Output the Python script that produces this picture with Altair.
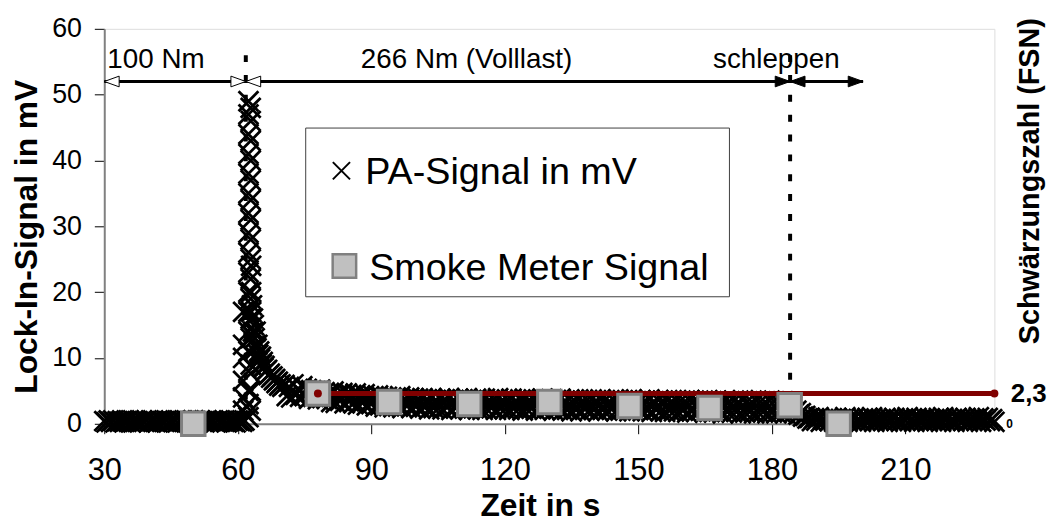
import altair as alt
import pandas as pd

FONT = "Liberation Sans"

# ---------------- data ----------------
x_ticks = [30, 60, 90, 120, 150, 180, 210]
y_ticks = [0, 10, 20, 30, 40, 50, 60]
fsn_ticks = [2.3]

# PA signal in mV, sampled every 0.5 s
pa_pre_start = 30.0
pa_pre_mv = [0.4, 0.2, 0.5, 0.3, 0.5, 0.2, 0.4, 0.3, 0.5, 0.3,
             0.4, 0.5, 0.2, 0.5, 0.3, 0.4, 0.2, 0.5, 0.3, 0.5,
             0.2, 0.4, 0.5, 0.3, 0.2, 0.5, 0.4, 0.3, 0.5, 0.2,
             0.4, 0.3, 0.5, 0.2, 0.5, 0.4, 0.3, 0.5, 0.2, 0.4,
             0.5, 0.3, 0.2, 0.5, 0.4, 0.2, 0.5, 0.3, 0.5, 0.4,
             0.2, 0.5, 0.3, 0.4, 0.5, 0.2, 0.4, 0.5, 0.3, 0.2,
             0.5, 0.4, 0.3, 0.5]
pa_rise_t = [61.2, 61.2, 61.2, 61.2, 61.2, 61.2]
pa_rise_mv = [2, 4, 6.5, 10, 12, 17]
pa_peak_t = [62.4] * 18 + [62.9] * 16
pa_peak_mv = [1, 3, 5, 8, 11, 14, 17, 20, 23, 26, 29, 32, 35, 38, 41, 44, 47, 49,
              2, 5, 9, 13, 16, 19, 22, 25, 28, 31, 34, 37, 40, 43, 46, 48]
pa_decay_t = [63.0, 63.0, 63.0, 63.2, 63.4, 63.4, 63.6, 63.8, 64.0, 64.0, 64.2,
              64.4, 64.6, 64.8, 65.0, 65.2, 65.4, 65.6, 65.8, 66.0, 66.3, 66.6,
              66.9, 67.2, 67.5, 67.8, 68.1, 68.4, 68.7, 69.0, 69.3, 69.6, 70.0]
pa_decay_mv = [24, 20, 17, 18, 16, 14, 15, 13, 12, 14, 11.5, 12, 10.5, 11, 9.8,
               10.2, 9, 9.4, 8.5, 8.8, 8, 8.2, 7.4, 7.6, 7, 7.2, 6.6, 6.8, 6.2,
               6.4, 5.8, 6.0, 5.6]
pa_full_start = 70.5
pa_full_mv = [5.9, 4.2, 5.6, 4.0, 6.0, 4.4, 5.3, 4.1, 5.7, 4.3,
              5.3, 3.8, 5.1, 4.1, 4.9, 3.7, 5.2, 3.9, 4.8, 3.8,
              4.7, 3.3, 4.9, 3.2, 4.5, 3.5, 4.7, 3.1, 4.6, 3.4,
              4.4, 3.1, 4.6, 2.9, 4.3, 3.2, 4.5, 2.8, 4.2, 3.0,
              4.2, 2.6, 4.3, 2.8, 4.0, 2.5, 4.1, 2.7, 3.9, 2.5,
              4.0, 2.6, 4.2, 2.4, 3.8, 2.7, 4.0, 2.4, 3.9, 2.6,
              3.8, 2.3, 3.9, 2.5, 3.7, 2.2, 3.9, 2.4, 3.6, 2.3,
              3.8, 2.2, 3.7, 2.5, 3.9, 2.1, 3.6, 2.4, 3.8, 2.2,
              3.7, 2.3, 3.9, 2.1, 3.6, 2.4, 3.8, 2.2, 3.7, 2.1,
              3.8, 2.2, 3.6, 2.4, 3.7, 2.1, 3.9, 2.3, 3.6, 2.2,
              3.7, 2.1, 3.8, 2.3, 3.5, 2.2, 3.7, 2.0, 3.8, 2.2,
              3.6, 2.3, 3.7, 2.0, 3.6, 2.2, 3.8, 2.1, 3.5, 2.3,
              3.7, 2.0, 3.6, 2.2, 3.8, 2.0, 3.5, 2.1, 3.7, 1.9,
              3.6, 2.1, 3.7, 1.9, 3.5, 2.2, 3.6, 2.0, 3.7, 2.1,
              3.5, 1.9, 3.7, 2.1, 3.6, 2.0, 3.4, 2.2, 3.6, 1.9,
              3.7, 2.0, 3.5, 2.1, 3.6, 1.9, 3.7, 2.0, 3.4, 2.1,
              3.6, 1.9, 3.5, 2.0, 3.7, 1.8, 3.4, 2.1, 3.6, 1.9,
              3.5, 1.8, 3.6, 2.0, 3.4, 1.9, 3.6, 1.8, 3.5, 2.0,
              3.4, 1.7, 3.6, 1.9, 3.5, 1.8, 3.3, 2.0, 3.5, 1.7,
              3.6, 1.8, 3.4, 1.7, 3.5, 1.9, 3.3, 1.6, 3.5, 1.8,
              3.4, 1.7, 3.5, 1.8, 3.3, 1.6, 3.6, 1.7, 3.4, 1.8,
              3.3, 1.6, 3.5, 1.7, 3.4, 1.8, 3.3, 1.6, 3.5, 1.7,
              3.4, 1.6, 3.3, 1.7, 3.4, 1.6, 3.2, 1.8]
pa_drop_start = 184.5
pa_drop_mv = [2.6, 1.7, 2.0, 1.4, 1.6, 1.1, 1.2, 0.8]
pa_tail_start = 188.5
pa_tail_mv = [0.9, 0.4, 0.8, 0.5, 1.0, 0.3, 0.7, 0.5, 0.9, 0.4,
              0.8, 0.3, 0.9, 0.5, 0.7, 0.4, 1.0, 0.3, 0.8, 0.5,
              0.9, 0.4, 0.7, 0.3, 0.8, 0.5, 0.9, 0.4, 1.0, 0.3,
              0.8, 0.5, 0.7, 0.4, 0.9, 0.3, 0.8, 0.5, 0.9, 0.4,
              0.7, 0.3, 0.8, 0.5, 1.0, 0.4, 0.8, 0.3, 0.9, 0.5,
              0.7, 0.4, 0.9, 0.3, 0.8, 0.5, 0.7, 0.4, 0.9, 0.3,
              1.0, 0.5, 0.8, 0.4, 0.7, 0.3, 0.9, 0.5, 0.8, 0.4,
              0.9, 0.3, 0.7, 0.5, 0.8, 0.4, 1.0, 0.3, 0.8, 0.5,
              0.9, 0.4, 0.7, 0.3]

# Smoke meter (FSN)
smoke_t = [50, 78, 94, 112, 130, 148, 166, 184, 195]
smoke_fsn = [0, 2.3, 1.65, 1.5, 1.65, 1.35, 1.2, 1.4, 0]
mean_t = [78, 230]
mean_fsn = [2.3, 2.3]

# phase annotations
phase_label = ["100 Nm", "266 Nm (Volllast)", "schleppen"]
phase_label_t = [30.7, 111.4, 181.0]
phase_label_mv = 54.1
phase_bound_t = [61.8, 184.1]
phase_bound_top = 56
arrow_mv = 52
arrow_start_t = 30.0
arrow_end_t = 200.5
open_head_t = [30.0, 61.8, 61.8]
open_head_dir = ["L", "R", "L"]
solid_head_t = [184.1, 184.1, 200.5]
solid_head_dir = ["R", "L", "R"]
legend_labels = ["PA-Signal in mV", "Smoke Meter Signal"]


def sampled(start, values, step=0.5):
    return [round(start + step * i, 2) for i in range(len(values))]


pa_t = (sampled(pa_pre_start, pa_pre_mv) + pa_rise_t + pa_peak_t + pa_decay_t
        + sampled(pa_full_start, pa_full_mv) + sampled(pa_drop_start, pa_drop_mv)
        + sampled(pa_tail_start, pa_tail_mv))
pa_mv = (pa_pre_mv + pa_rise_mv + pa_peak_mv + pa_decay_mv + pa_full_mv
         + pa_drop_mv + pa_tail_mv)
pa_df = pd.DataFrame({"t": pa_t, "mv": pa_mv})
smoke_df = pd.DataFrame({"t": smoke_t, "fsn": smoke_fsn})
mean_df = pd.DataFrame({"t": mean_t, "fsn": mean_fsn})
label_df = pd.DataFrame({"t": phase_label_t, "label": phase_label,
                         "mv": [phase_label_mv] * 3})
bound_df = pd.DataFrame({"t": phase_bound_t, "top": [phase_bound_top] * 2,
                         "bottom": [0, 0]})
arrow_df = pd.DataFrame({"t": [arrow_start_t], "end": [arrow_end_t],
                         "mv": [arrow_mv]})
open_df = pd.DataFrame({"t": open_head_t, "dir": open_head_dir,
                        "mv": [arrow_mv] * 3})
solid_df = pd.DataFrame({"t": solid_head_t, "dir": solid_head_dir,
                         "mv": [arrow_mv] * 3})
leg1_df = pd.DataFrame({"label": [legend_labels[0]]})
leg2_df = pd.DataFrame({"label": [legend_labels[1]]})
right_zero_df = pd.DataFrame({"label": ["0"]})

# ---------------- chart ----------------
W, H = 897, 398
x_scale = alt.Scale(domain=[30, 230], nice=False, zero=False)
y_scale = alt.Scale(domain=[0, 60], nice=False)
y2_scale = alt.Scale(domain=[0, 30], nice=False)

X_PATH = "M-1,-1L1,1M-1,1L1,-1"
RIGHT_HEAD = "M0,0L-1,-0.36L-1,0.36Z"
LEFT_HEAD = "M0,0L1,-0.36L1,0.36Z"
head_shape = alt.Shape("dir:N", scale=alt.Scale(domain=["L", "R"],
                                                range=[LEFT_HEAD, RIGHT_HEAD]),
                       legend=None)

x_axis = alt.Axis(
    values=x_ticks, tickSize=10, tickColor="black", tickWidth=1,
    domainColor="#808080", domainWidth=2, labelFontSize=31,
    labelColor="black", labelPadding=22, labelFont=FONT, labelFlush=False,
    title="Zeit in s", titleFontSize=32, titleFontWeight="bold",
    titleFont=FONT, titleColor="black", titleX=439, titleY=92,
    titleAlign="center", titleBaseline="alphabetic", grid=False)
xa = alt.X("t:Q", scale=x_scale, axis=x_axis, title="Zeit in s")
ya = alt.Y("mv:Q", scale=y_scale, axis=None)
y2a = alt.Y("fsn:Q", scale=y2_scale, axis=None)

pa = alt.Chart(pa_df).mark_point(
    shape=X_PATH, filled=False, stroke="black", strokeWidth=2.8, size=400, opacity=1
).encode(
    x=xa,
    y=alt.Y("mv:Q", scale=y_scale, axis=alt.Axis(
        orient="left", values=y_ticks, tickSize=10, tickColor="black",
        tickWidth=1, domainColor="#808080", domainWidth=2, labelFontSize=27,
        labelPadding=13, labelColor="black", labelFont=FONT,
        title="Lock-In-Signal in mV", titleFontSize=32, titleFontWeight="bold",
        titleFont=FONT, titleColor="black", titleAngle=270, titleX=-68,
        titleY=209, titleAlign="center", titleBaseline="alphabetic", grid=False)),
)

bounds = alt.Chart(bound_df).mark_rule(
    stroke="black", strokeWidth=4, strokeDash=[7, 13]
).encode(x=xa, y=alt.Y("top:Q", scale=y_scale, axis=None), y2="bottom:Q")

arrow_line = alt.Chart(arrow_df).mark_rule(stroke="black", strokeWidth=3).encode(
    x=xa, x2="end:Q", y=ya)

open_heads = alt.Chart(open_df).mark_point(
    filled=True, fill="white", stroke="black", strokeWidth=1, size=900, opacity=1
).encode(x=xa, y=ya, shape=head_shape)

solid_heads = alt.Chart(solid_df).mark_point(
    filled=True, fill="black", stroke="black", strokeWidth=1, size=900, opacity=1
).encode(x=xa, y=ya, shape=head_shape)

labels_left = alt.Chart(label_df.iloc[:1]).mark_text(
    align="left", baseline="alphabetic", fontSize=28, font=FONT, color="black"
).encode(x=xa, y=ya, text="label:N")
labels_center = alt.Chart(label_df.iloc[1:]).mark_text(
    align="center", baseline="alphabetic", fontSize=28, font=FONT, color="black"
).encode(x=xa, y=ya, text="label:N")

mean_line = alt.Chart(mean_df).mark_line(color="#800000", strokeWidth=5).encode(
    x=xa, y=y2a)

smoke = alt.Chart(smoke_df).mark_point(
    shape="square", filled=True, fill="#c0c0c0", stroke="#808080",
    strokeWidth=3, size=560, opacity=1
).encode(
    x=xa,
    y=alt.Y("fsn:Q", scale=y2_scale, axis=alt.Axis(
        orient="right", values=fsn_ticks,
        labelExpr="replace(format(datum.value, '.1f'), '.', ',')",
        labelFontSize=26, labelFontWeight="bold", labelPadding=16,
        labelColor="black", labelFont=FONT, ticks=False, domain=False,
        title="Schwärzungszahl (FSN)", titleFontSize=29, titleFontWeight="bold",
        titleFont=FONT, titleColor="black", titleAngle=270, titleX=44,
        titleY=153, titleAlign="center", titleBaseline="alphabetic", grid=False)),
)

mean_dots = alt.Chart(mean_df).mark_point(
    shape="circle", filled=True, fill="#800000", stroke="#800000",
    strokeWidth=0, size=64, opacity=1
).encode(x=xa, y=y2a)

legend_box = alt.Chart(leg1_df).mark_rect(
    fill="white", stroke="#404040", strokeWidth=1
).encode(x=alt.value(203), x2=alt.value(630), y=alt.value(100), y2=alt.value(270))
legend_sym1 = alt.Chart(leg1_df).mark_point(
    shape=X_PATH, filled=False, stroke="black", strokeWidth=2, size=300, opacity=1
).encode(x=alt.value(239), y=alt.value(143))
legend_sym2 = alt.Chart(leg2_df).mark_point(
    shape="square", filled=True, fill="#c0c0c0", stroke="#808080",
    strokeWidth=2.5, size=560, opacity=1
).encode(x=alt.value(242), y=alt.value(239))
legend_txt1 = alt.Chart(leg1_df).mark_text(
    align="left", baseline="alphabetic", fontSize=38, font=FONT, color="black"
).encode(x=alt.value(263), y=alt.value(156), text="label:N")
legend_txt2 = alt.Chart(leg2_df).mark_text(
    align="left", baseline="alphabetic", fontSize=38, font=FONT, color="black"
).encode(x=alt.value(267), y=alt.value(253), text="label:N")

right_zero = alt.Chart(right_zero_df).mark_text(
    align="left", baseline="middle", fontSize=12, font=FONT, color="black",
    fontWeight="bold"
).encode(x=alt.value(W + 12), y=alt.value(H), text="label:N")

chart = alt.layer(
    pa, bounds, arrow_line, open_heads, solid_heads, labels_left, labels_center,
    mean_line, smoke, mean_dots, legend_box, legend_sym1, legend_sym2,
    legend_txt1, legend_txt2, right_zero
).resolve_scale(y="independent").properties(
    width=W, height=H,
    padding={"left": 97, "top": 19, "right": 53, "bottom": 99},
    autosize=alt.AutoSizeParams(type="none"),
    background="white",
).configure_view(stroke="#808080", strokeWidth=2).configure(font=FONT)

chart.save("out.html", embed_options={"renderer": "svg", "actions": False})
